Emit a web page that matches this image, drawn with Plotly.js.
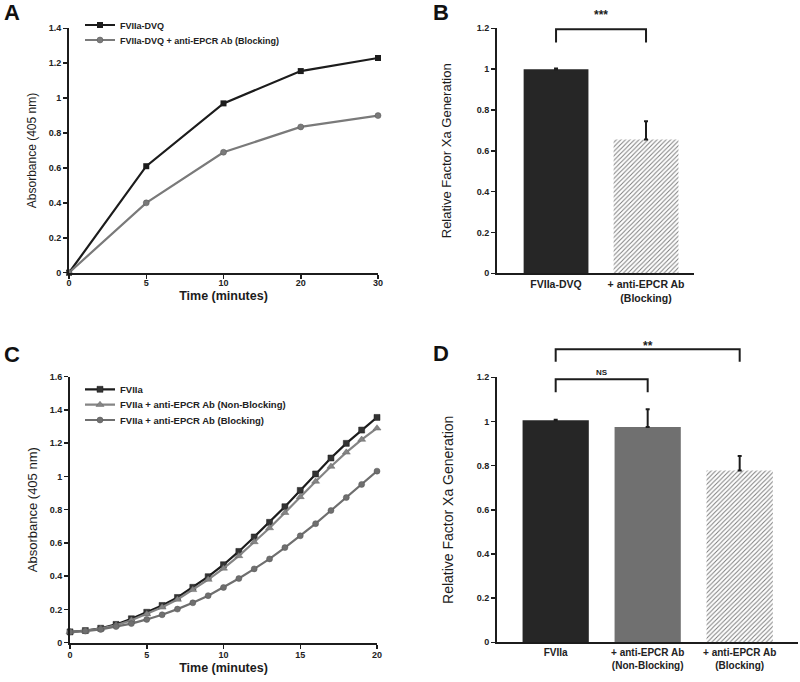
<!DOCTYPE html>
<html>
<head>
<meta charset="utf-8">
<script src="https://cdn.plot.ly/plotly-3.0.1.min.js"></script>
<style>html,body{margin:0;padding:0;background:#fff;}#chart{width:800px;height:682px;}</style>
</head>
<body>
<div id="chart"></div>
<script>
// ---------- Panel A data ----------
const timeA = ['0', '5', '10', '20', '30'];
const absA_DVQ = [0, 0.61, 0.97, 1.155, 1.23];
const absA_DVQ_Block = [0, 0.40, 0.69, 0.835, 0.90];
const legendA = ['FVIIa-DVQ', 'FVIIa-DVQ + anti-EPCR Ab (Blocking)'];

// ---------- Panel B data ----------
const catB = ['FVIIa-DVQ', '+ anti-EPCR Ab<br>(Blocking)'];
const relB = [1.0, 0.655];
const errB = [0.003, 0.09];

// ---------- Panel C data ----------
const timeC = [0, 1, 2, 3, 4, 5, 6, 7, 8, 9, 10, 11, 12, 13, 14, 15, 16, 17, 18, 19, 20];
const absC_FVIIa = [0.065, 0.073, 0.087, 0.110, 0.144, 0.183, 0.224, 0.272, 0.333, 0.397, 0.469, 0.549, 0.636, 0.724, 0.818, 0.916, 1.015, 1.111, 1.199, 1.279, 1.355];
const absC_NonBlock = [0.065, 0.072, 0.085, 0.105, 0.135, 0.172, 0.213, 0.260, 0.318, 0.380, 0.447, 0.522, 0.606, 0.690, 0.782, 0.877, 0.970, 1.060, 1.145, 1.222, 1.290];
const absC_Block = [0.065, 0.070, 0.080, 0.097, 0.115, 0.140, 0.168, 0.202, 0.240, 0.283, 0.332, 0.386, 0.444, 0.504, 0.572, 0.643, 0.716, 0.795, 0.873, 0.952, 1.032];
const legendC = ['FVIIa', 'FVIIa + anti-EPCR Ab (Non-Blocking)', 'FVIIa + anti-EPCR Ab (Blocking)'];

// ---------- Panel D data ----------
const catD = ['FVIIa', '+ anti-EPCR Ab<br>(Non-Blocking)', '+ anti-EPCR Ab<br>(Blocking)'];
const relD = [1.005, 0.975, 0.778];
const errD = [0.003, 0.08, 0.066];

// significance labels
const sigB = ['***'];
const sigD = ['NS', '**'];

// ---------- styles ----------
const FONT = 'Liberation Sans, Arial, Helvetica, sans-serif';
const BLACK = '#1c1c1c';
const GRAY_A = '#7a7a7a';
const GRAY_TRI = '#858585';
const GRAY_CIR = '#6f6f6f';
const DARK_BAR = '#262626';
const MID_BAR = '#707070';
const HATCH = '#7a7a7a';
const tickFont = {family: FONT, size: 9, weight: 'bold', color: '#222'};

const traces = [
  // A
  {type: 'scatter', mode: 'lines+markers', x: timeA, y: absA_DVQ, name: legendA[0],
   xaxis: 'x', yaxis: 'y', legend: 'legend', cliponaxis: false,
   line: {color: BLACK, width: 2.2}, marker: {symbol: 'square', size: 6, color: BLACK}},
  {type: 'scatter', mode: 'lines+markers', x: timeA, y: absA_DVQ_Block, name: legendA[1],
   xaxis: 'x', yaxis: 'y', legend: 'legend2', cliponaxis: false,
   line: {color: GRAY_A, width: 2.2}, marker: {symbol: 'circle', size: 6, color: GRAY_A, line: {color: '#555', width: 0.5}}},
  // B
  {type: 'bar', x: catB, y: relB, xaxis: 'x2', yaxis: 'y2', showlegend: false, width: 0.72,
   marker: {color: [DARK_BAR, HATCH], line: {width: 0},
            pattern: {shape: ['', '/'], bgcolor: '#ffffff', fgcolor: HATCH, size: 3.2, solidity: 0.3}},
   error_y: {type: 'data', symmetric: false, array: errB, arrayminus: [0, 0], color: BLACK, thickness: 2, width: 2}},
  // C
  {type: 'scatter', mode: 'lines+markers', x: timeC, y: absC_FVIIa, name: legendC[0],
   xaxis: 'x3', yaxis: 'y3', legend: 'legend3', cliponaxis: false,
   line: {color: BLACK, width: 2.2}, marker: {symbol: 'square', size: 6, color: '#333', line: {color: BLACK, width: 0.5}}},
  {type: 'scatter', mode: 'lines+markers', x: timeC, y: absC_NonBlock, name: legendC[1],
   xaxis: 'x3', yaxis: 'y3', legend: 'legend4', cliponaxis: false,
   line: {color: GRAY_TRI, width: 2.2}, marker: {symbol: 'triangle-up', size: 7, color: GRAY_TRI, line: {color: '#666', width: 0.5}}},
  {type: 'scatter', mode: 'lines+markers', x: timeC, y: absC_Block, name: legendC[2],
   xaxis: 'x3', yaxis: 'y3', legend: 'legend5', cliponaxis: false,
   line: {color: GRAY_CIR, width: 2.2}, marker: {symbol: 'circle', size: 6, color: GRAY_CIR, line: {color: '#555', width: 0.5}}},
  // D
  {type: 'bar', x: catD, y: relD, xaxis: 'x4', yaxis: 'y4', showlegend: false, width: 0.72,
   marker: {color: [DARK_BAR, MID_BAR, HATCH], line: {width: 0},
            pattern: {shape: ['', '', '/'], bgcolor: '#ffffff', fgcolor: HATCH, size: 3.2, solidity: 0.3}},
   error_y: {type: 'data', symmetric: false, array: errD, arrayminus: [0, 0, 0], color: BLACK, thickness: 2, width: 2}}
];

function xAx(domain, anchor, extra) {
  return Object.assign({domain: domain, anchor: anchor, showline: true, linecolor: BLACK, linewidth: 2,
    showgrid: false, zeroline: false, tickfont: tickFont, fixedrange: true}, extra);
}
function yAx(domain, anchor, range, extra) {
  return Object.assign({domain: domain, anchor: anchor, range: range, dtick: 0.2, showline: true,
    linecolor: BLACK, linewidth: 2, ticks: 'outside', ticklen: 4, tickwidth: 1.5, tickcolor: BLACK,
    showgrid: false, zeroline: false, tickfont: tickFont, fixedrange: true}, extra);
}

const yRangeB = [0, 1.2];
const yRangeD = [0, 1.2];
const dom = (v, r) => (v - r[0]) / (r[1] - r[0]);

function bracket(xref, yref, xa, xb, yTop, yBot, r) {
  return {type: 'path', xref: xref, yref: yref + ' domain',
    path: 'M ' + xa + ',' + dom(yBot, r) + ' L ' + xa + ',' + dom(yTop, r) + ' L ' + xb + ',' + dom(yTop, r) + ' L ' + xb + ',' + dom(yBot, r),
    line: {color: BLACK, width: 2}};
}

function legendAt(yPix, size) {
  return {x: 80 / 800, y: 1 - yPix / 682, xanchor: 'left', yanchor: 'middle', bgcolor: 'rgba(0,0,0,0)',
    borderwidth: 0, font: {family: FONT, size: size, weight: 'bold', color: '#222'}, itemwidth: 30};
}

function letter(txt, xPix, yPix) {
  return {text: txt, xref: 'paper', yref: 'paper', x: xPix / 800, y: 1 - yPix / 682,
    xanchor: 'left', yanchor: 'middle', showarrow: false,
    font: {family: FONT, size: 22, weight: 'bold', color: '#111'}};
}

const layout = {
  width: 800, height: 682,
  margin: {l: 0, r: 0, t: 0, b: 0},
  paper_bgcolor: '#ffffff', plot_bgcolor: '#ffffff',
  font: {family: FONT, color: '#1c1c1c'},
  showlegend: true,
  // Panel A
  xaxis: xAx([69 / 800, 378 / 800], 'y', {type: 'category', range: [0, 4], ticks: 'outside', ticklen: 4,
    tickwidth: 1.5, tickcolor: BLACK, ticklabelstandoff: -4,
    title: {text: 'Time (minutes)', font: {family: FONT, size: 12.5, weight: 'bold', color: '#1c1c1c'}, standoff: 5}}),
  yaxis: yAx([1 - 272.7 / 682, 1 - 28.3 / 682], 'x', [0, 1.4],
    {title: {text: 'Absorbance (405 nm)', font: {family: FONT, size: 12, color: '#1c1c1c'}, standoff: 9}}),
  // Panel B
  xaxis2: xAx([497 / 800, 694 / 800], 'y2', {type: 'category', range: [-0.656, 1.533], ticks: '',
    tickfont: {family: FONT, size: 10.5, weight: 'bold', color: '#222'}}),
  yaxis2: yAx([1 - 273.3 / 682, 1 - 28.3 / 682], 'x2', yRangeB,
    {title: {text: 'Relative Factor Xa Generation', font: {family: FONT, size: 13, color: '#1c1c1c'}, standoff: 22}}),
  // Panel C
  xaxis3: xAx([70 / 800, 377 / 800], 'y3', {range: [0, 20], dtick: 5, ticks: 'outside', ticklen: 4,
    tickwidth: 1.5, tickcolor: BLACK, ticklabelstandoff: -2,
    title: {text: 'Time (minutes)', font: {family: FONT, size: 12.5, weight: 'bold', color: '#1c1c1c'}, standoff: 5}}),
  yaxis3: yAx([1 - 642.7 / 682, 1 - 376.7 / 682], 'x3', [0, 1.6],
    {title: {text: 'Absorbance (405 nm)', font: {family: FONT, size: 13, color: '#1c1c1c'}, standoff: 9}}),
  // Panel D
  xaxis4: xAx([497 / 800, 798 / 800], 'y4', {type: 'category', range: [-0.638, 2.634], ticks: '',
    tickfont: {family: FONT, size: 10, weight: 'bold', color: '#222'}}),
  yaxis4: yAx([1 - 642.3 / 682, 1 - 377.3 / 682], 'x4', yRangeD,
    {title: {text: 'Relative Factor Xa Generation', font: {family: FONT, size: 14, color: '#1c1c1c'}, standoff: 20}}),
  legend: legendAt(25, 9),
  legend2: legendAt(40, 9),
  legend3: legendAt(389.3, 9.5),
  legend4: legendAt(404.7, 9.5),
  legend5: legendAt(420, 9.5),
  shapes: [
    bracket('x2', 'y2', 0, 1, 1.195, 1.13, yRangeB),
    bracket('x4', 'y4', 0, 1, 1.191, 1.132, yRangeD),
    bracket('x4', 'y4', 0, 2, 1.327, 1.27, yRangeD)
  ],
  annotations: [
    letter('A', 2, 13), letter('B', 431, 13), letter('C', 2, 354), letter('D', 431, 353),
    {text: sigB[0], xref: 'x2', yref: 'y2 domain', x: 0.5, y: dom(1.22, yRangeB), xanchor: 'center', yanchor: 'bottom',
     showarrow: false, font: {family: FONT, size: 12, weight: 'bold', color: '#1c1c1c'}},
    {text: sigD[0], xref: 'x4', yref: 'y4 domain', x: 0.5, y: dom(1.191, yRangeD), xanchor: 'center', yanchor: 'bottom',
     showarrow: false, font: {family: FONT, size: 8, weight: 'bold', color: '#1c1c1c'}},
    {text: sigD[1], xref: 'x4', yref: 'y4 domain', x: 1, y: dom(1.303, yRangeD), xanchor: 'center', yanchor: 'bottom',
     showarrow: false, font: {family: FONT, size: 12, weight: 'bold', color: '#1c1c1c'}}
  ]
};

Plotly.newPlot('chart', traces, layout, {staticPlot: true, displayModeBar: false});
</script>
</body>
</html>
